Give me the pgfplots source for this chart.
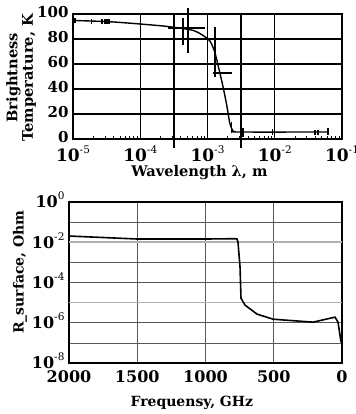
\documentclass[border=0pt]{standalone}
\usepackage{fontspec}
\setmainfont{DejaVu Serif}
\usepackage{pgfplots}
\pgfplotsset{compat=1.18}
\newcommand\sps[1]{\raisebox{0.5em}{\fontsize{10.5bp}{10.5bp}\selectfont\mdseries #1}}
\begin{document}
\begin{tikzpicture}
\useasboundingbox (0,0) rectangle (356bp,-414bp);
\begin{axis}[
 at={(73bp,-14bp)}, anchor=north west,
 scale only axis, width=269bp, height=125bp,
 xmode=log, xmin=1e-5, xmax=1e-1, ymin=0, ymax=100,
 xtick={1e-5,1e-4,1e-3,1e-2,1e-1},
 xticklabels={10\sps{-5},10\sps{-4},10\sps{-3},10\sps{-2},10\sps{-1}},
 ytick={0,20,40,60,80,100},
 yticklabels={0,20,40,60,80,100},
 xtick pos=left, ytick pos=left,
 major tick length=0pt, minor tick length=3bp,
 minor tick style={line width=0.8bp, black},
 grid=major, major grid style={line width=1.3bp, black},
 axis line style={line width=1.5bp},
 xticklabel style={font=\fontsize{17bp}{18bp}\selectfont\bfseries, yshift=-3bp},
 yticklabel style={font=\fontsize{15bp}{16bp}\selectfont\bfseries, xshift=-1bp, yshift=2bp},
 label style={font=\fontsize{14.6bp}{15.5bp}\selectfont\bfseries},
 xlabel={Wavelength λ, m},
 ylabel={Brightness\\Temperature, K},
 xlabel style={at={(axis description cs:0.47,-0.27)}, anchor=center},
 ylabel style={at={(axis description cs:-0.193,0.49)}, anchor=center, align=center},
 extra x ticks={3.1623e-4,3.1623e-3},
 extra x tick labels={},
 extra x tick style={grid=major, major tick length=9bp, tick align=outside, major tick style={line width=1.3bp,black}},
 unbounded coords=jump,
 clip=false,
]
% main curve
\addplot[black, line width=1.4bp, smooth, tension=0.4] coordinates {
 (1.07e-5,94.8) (3.5e-5,93.8) (1e-4,92) (2.57e-4,90) (6.0e-4,87) (8.5e-4,83)
 (1.10e-3,78) (1.29e-3,69) (1.45e-3,58) (1.70e-3,42) (1.95e-3,26)
 (2.14e-3,13) (2.40e-3,6.5) (3.0e-3,5.6) (6.2e-2,5.6)
};
% error crosses
\addplot[black, line width=1.5bp] coordinates {
 (1.07e-5,92.5) (1.07e-5,97) (nan,nan)
 (1.9e-5,92) (1.9e-5,96) (nan,nan)
 (2.7e-5,92) (2.7e-5,96) (nan,nan)
 (3.0e-5,92) (3.0e-5,96) (nan,nan)
 (3.2e-5,92) (3.2e-5,96) (nan,nan)
 (3.45e-5,92) (3.45e-5,96) (nan,nan)
 (2.6e-4,88.8) (9.1e-4,88.8) (nan,nan)
 (5.1e-4,68.8) (5.1e-4,104.8) (nan,nan)
 (4.35e-4,75) (4.35e-4,97) (nan,nan)
 (1.29e-3,50) (1.29e-3,90) (nan,nan)
 (1.2e-3,53) (2.29e-3,53) (nan,nan)
 (2.29e-3,4.8) (2.29e-3,13.6) (nan,nan)
 (3.4e-3,1.6) (3.4e-3,8.8) (nan,nan)
 (9.3e-3,3) (9.3e-3,8) (nan,nan)
 (4.0e-2,3.5) (4.0e-2,7.5) (nan,nan)
 (4.4e-2,3.5) (4.4e-2,7.5) (nan,nan)
 (6.2e-2,3) (6.2e-2,8.5)
};
\end{axis}
\begin{axis}[
 at={(69bp,-202bp)}, anchor=north west,
 scale only axis, width=273bp, height=161bp,
 ymode=log, xmin=0, xmax=2000, ymin=1e-8, ymax=1,
 x dir=reverse,
 xtick={0,500,1000,1500,2000}, xticklabels={0,500,1000,1500,2000},
 ytick={1,1e-2,1e-4,1e-6,1e-8},
 yticklabels={10\sps{0},10\sps{-2},10\sps{-4},10\sps{-6},10\sps{-8}},
 minor ytick={1e-1,1e-3,1e-5,1e-7},
 grid=both,
 major grid style={line width=0.7bp, black!65},
 minor grid style={line width=0.7bp, black!65},
 major tick length=0pt, minor tick length=0pt,
 extra y ticks={1e-2,1e-5}, extra y tick labels={},
 extra y tick style={grid=major, major grid style={line width=1.6bp, black!30}},
 axis line style={line width=1.5bp},
 xticklabel style={font=\fontsize{16bp}{17bp}\selectfont\bfseries, yshift=-4bp},
 yticklabel style={font=\fontsize{16bp}{17bp}\selectfont\bfseries, xshift=-1bp, yshift=2bp},
 label style={font=\fontsize{14bp}{15bp}\selectfont\bfseries},
 xlabel={Frequensy, GHz},
 ylabel={R\_surface, Ohm},
 xlabel style={at={(axis description cs:0.45,-0.245)}, anchor=center},
 ylabel style={at={(axis description cs:-0.18,0.565)}, anchor=center},
]
\addplot[black, line width=1.6bp] coordinates {
 (2000,2.04e-2) (1500,1.45e-2) (1000,1.45e-2) (783,1.5e-2) (769,1.45e-2)
 (762,1.02e-2) (747,5.9e-4) (740,1.66e-5) (711,7.6e-6) (623,2.7e-6)
 (505,1.5e-6) (212,1.07e-6) (51,1.9e-6) (29,1.07e-6) (7,1.07e-7)
};
\end{axis}
\end{tikzpicture}
\end{document}
